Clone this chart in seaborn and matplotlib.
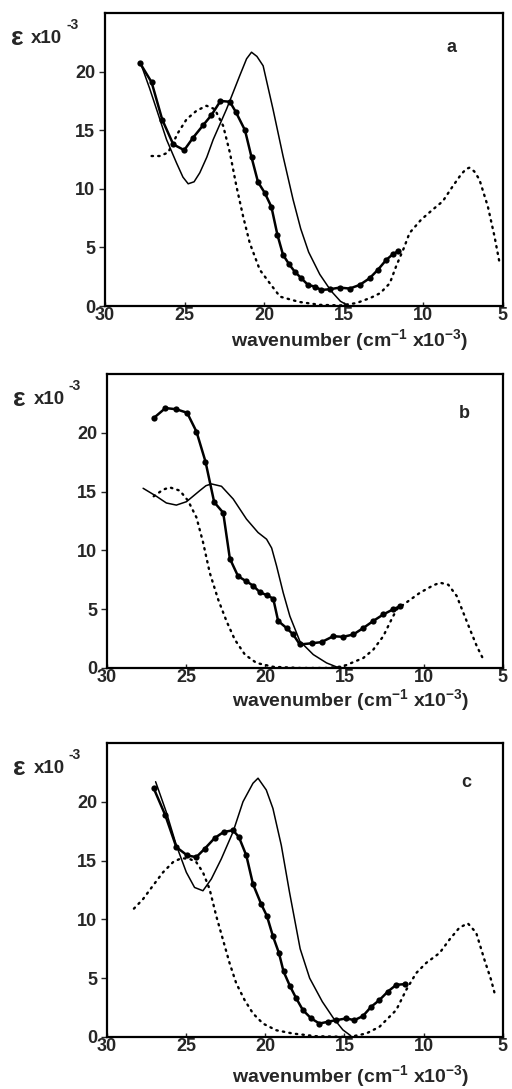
import matplotlib
matplotlib.use("Agg")
import matplotlib.pyplot as plt
import seaborn as sns

# ---- panel a ----
a_solid_x = [27.7, 27.2, 26.76, 26.13, 25.5, 25.1, 24.77, 24.4, 24.04, 23.6, 23.2, 22.36, 21.53, 21.1,
             20.79, 20.45, 20.06, 19.44, 18.81, 18.18, 17.7, 17.2, 16.5, 15.8, 15.2, 14.8]
a_solid_y = [20.5, 18.6, 16.8, 14.2, 12.2, 11.0, 10.43, 10.6, 11.37, 12.7, 14.2, 16.8, 19.66, 21.1,
             21.66, 21.3, 20.5, 16.8, 12.8, 9.09, 6.6, 4.6, 2.7, 1.3, 0.4, 0.1]
a_mark_x = [27.8, 27.07, 26.4, 25.71, 25.02, 24.46, 23.83, 23.31, 22.74, 22.15, 21.78, 21.2, 20.79,
            20.38, 19.96, 19.54, 19.16, 18.81, 18.43, 18.08, 17.66, 17.24, 16.82, 16.4, 15.88,
            15.25, 14.62, 13.99, 13.37, 12.85, 12.32, 11.9, 11.59]
a_mark_y = [20.74, 19.1, 15.9, 13.8, 13.3, 14.37, 15.43, 16.29, 17.5, 17.43, 16.57, 15.0, 12.7,
            10.57, 9.66, 8.46, 6.06, 4.37, 3.57, 2.94, 2.37, 1.8, 1.66, 1.37, 1.43,
            1.57, 1.49, 1.8, 2.37, 3.09, 3.94, 4.43, 4.66]
a_dot_x = [27.07, 26.55, 26.03, 25.4, 24.87, 24.25, 23.62, 23.1, 22.57, 22.15, 21.74, 21.32, 20.9,
           20.27, 19.64, 19.0, 17.8, 16.5, 15.2, 14.2, 13.3, 12.7, 12.1, 11.7, 11.2, 10.86, 10.13,
           9.4, 8.77, 8.14, 7.62, 7.3, 7.1, 6.8, 6.47, 5.94, 5.52, 5.2]
a_dot_y = [12.8, 12.8, 13.1, 14.8, 15.94, 16.66, 17.09, 16.8, 15.37, 13.09, 10.23, 7.66, 5.37,
           3.09, 1.94, 0.8, 0.35, 0.1, 0.05, 0.25, 0.7, 1.1, 1.94, 3.4, 5.0, 6.23, 7.37,
           8.23, 8.94, 10.23, 11.23, 11.7, 11.8, 11.5, 10.8, 8.5, 5.94, 3.66]

# ---- panel b ----
b_solid_x = [27.72, 26.88, 26.25, 25.62, 24.98, 24.14, 23.75, 23.4, 22.77, 22.03, 21.19, 20.46, 19.92,
             19.6, 19.29, 18.87, 18.45, 17.82, 16.97, 16.13, 15.5, 15.2]
b_solid_y = [15.28, 14.6, 14.03, 13.85, 14.14, 15.08, 15.5, 15.65, 15.45, 14.37, 12.66, 11.52, 10.95,
             10.2, 8.68, 6.4, 4.41, 2.28, 1.14, 0.43, 0.09, 0.05]
b_mark_x = [27.05, 26.31, 25.62, 24.94, 24.35, 23.78, 23.23, 22.66, 22.24, 21.72, 21.23, 20.77,
            20.35, 19.92, 19.5, 19.19, 18.66, 18.24, 17.82, 17.08, 16.45, 15.71, 15.08, 14.44,
            13.81, 13.18, 12.55, 11.91, 11.49]
b_mark_y = [21.25, 22.1, 22.0, 21.7, 20.1, 17.55, 14.1, 13.2, 9.3, 7.8, 7.4, 7.0,
            6.45, 6.2, 5.9, 4.0, 3.4, 2.85, 2.0, 2.1, 2.2, 2.7, 2.65, 2.85,
            3.4, 4.0, 4.55, 5.0, 5.25]
b_dot_x = [27.05, 26.46, 26.04, 25.4, 24.88, 24.35, 23.93, 23.51, 22.98, 22.45, 21.93, 21.29,
           20.56, 19.5, 17.8, 16.1, 15.08, 13.81, 13.18, 12.55, 12.03, 11.7, 10.23, 9.39, 8.96,
           8.44, 7.91, 7.49, 7.07, 6.64, 6.22]
b_dot_y = [14.6, 15.16, 15.36, 15.08, 14.22, 12.8, 10.67, 8.1, 5.83, 3.98, 2.42, 1.14,
           0.43, 0.1, 0.0, 0.0, 0.14, 0.85, 1.56, 2.7, 4.13, 4.98, 6.4, 7.03, 7.25,
           7.08, 6.12, 4.69, 3.27, 1.85, 0.71]

# ---- panel c ----
c_solid_x = [26.93, 26.26, 25.62, 24.99, 24.47, 23.94, 23.41, 22.78, 22.04, 21.41, 20.78, 20.46,
             19.94, 19.52, 18.99, 18.47, 17.8, 17.2, 16.4, 15.7, 15.1, 14.6]
c_solid_y = [21.7, 19.14, 16.29, 14.0, 12.71, 12.43, 13.43, 15.14, 17.43, 20.0, 21.57, 22.0,
             21.0, 19.43, 16.29, 12.29, 7.5, 5.0, 3.0, 1.6, 0.6, 0.1]
c_mark_x = [27.05, 26.32, 25.62, 24.93, 24.36, 23.83, 23.2, 22.63, 22.04, 21.67, 21.2, 20.78,
            20.26, 19.9, 19.52, 19.14, 18.85, 18.43, 18.05, 17.63, 17.1, 16.58, 16.05, 15.53,
            14.89, 14.37, 13.84, 13.31, 12.79, 12.26, 11.73, 11.2]
c_mark_y = [21.14, 18.86, 16.14, 15.43, 15.29, 16.0, 16.91, 17.43, 17.57, 17.0, 15.43, 13.0,
            11.29, 10.29, 8.57, 7.14, 5.57, 4.29, 3.29, 2.29, 1.57, 1.14, 1.29, 1.43,
            1.57, 1.43, 1.77, 2.57, 3.14, 3.86, 4.43, 4.49]
c_dot_x = [28.3, 27.73, 27.1, 26.46, 25.83, 25.31, 24.78, 24.36, 23.94, 23.52, 23.1, 22.68, 22.26,
           21.84, 21.31, 20.78, 20.15, 19.31, 18.26, 16.78, 14.68, 13.63, 12.79, 11.73, 11.1,
           10.47, 9.84, 8.99, 8.36, 7.74, 7.21, 6.68, 6.16, 5.74, 5.46]
c_dot_y = [10.91, 11.71, 12.86, 14.0, 14.86, 15.2, 15.14, 14.86, 14.0, 12.57, 10.29, 8.29, 6.29,
           4.57, 3.14, 2.0, 1.14, 0.57, 0.29, 0.06, 0.0, 0.29, 0.86, 2.29, 4.0,
           5.43, 6.29, 7.14, 8.29, 9.29, 9.66, 8.86, 6.57, 4.86, 3.43]

panels = [
    ("a", a_solid_x, a_solid_y, a_mark_x, a_mark_y, a_dot_x, a_dot_y),
    ("b", b_solid_x, b_solid_y, b_mark_x, b_mark_y, b_dot_x, b_dot_y),
    ("c", c_solid_x, c_solid_y, c_mark_x, c_mark_y, c_dot_x, c_dot_y),
]

sns.set_style("ticks")
plt.rcParams['font.family'] = ['Liberation Sans', 'DejaVu Sans']
plt.rcParams['font.weight'] = 'bold'
plt.rcParams['mathtext.fontset'] = 'custom'
plt.rcParams['mathtext.rm'] = 'Liberation Sans:bold'
plt.rcParams['mathtext.bf'] = 'Liberation Sans:bold'
plt.rcParams['mathtext.default'] = 'bf'

fig = plt.figure(figsize=(5.12, 10.89), dpi=100)
# axes boxes (left, bottom, width, height) in figure fractions
boxes = [(0.205, 0.719, 0.777, 0.269),
         (0.209, 0.3866, 0.773, 0.270),
         (0.209, 0.0478, 0.773, 0.270)]
letter_pos = [(0.872, 0.884), (0.904, 0.867), (0.907, 0.867)]
xlabel_y = [-0.072, -0.066, -0.090]

for (name, sx, sy, mx, my, dx, dy), box, lp, ly in zip(panels, boxes, letter_pos, xlabel_y):
    ax = fig.add_axes(box)
    sns.lineplot(x=dx, y=dy, ax=ax, color="black", sort=False, estimator=None,
                 linewidth=1.7, linestyle=(0, (0.6, 2.2)), dash_capstyle="round")
    sns.lineplot(x=sx, y=sy, ax=ax, color="black", sort=False, estimator=None, linewidth=1.1)
    sns.lineplot(x=mx, y=my, ax=ax, color="black", sort=False, estimator=None,
                 linewidth=1.8, marker="o", markersize=4.5, markeredgewidth=0)
    ax.set_xlim(30, 5)
    ax.set_ylim(0, 25)
    ax.set_xticks([30, 25, 20, 15, 10, 5])
    ax.set_yticks([0, 5, 10, 15, 20])
    ax.tick_params(axis="x", direction="in", length=3, width=1, pad=1, labelsize=13)
    ax.tick_params(axis="y", direction="out", length=4, width=1, pad=3, labelsize=13)
    for lab in ax.get_xticklabels() + ax.get_yticklabels():
        lab.set_fontweight("bold")
    for sp in ax.spines.values():
        sp.set_visible(True)
        sp.set_linewidth(1.6)
        sp.set_color("black")
    ax.set_xlabel(r"wavenumber (cm$^{-1}$ x10$^{-3}$)", fontsize=14,
                  fontweight="bold")
    ax.xaxis.set_label_coords(0.616, ly)
    ax.set_ylabel("")
    ax.text(lp[0], lp[1], name, transform=ax.transAxes, fontsize=13, fontweight="bold",
            ha="center", va="center")
    # y axis title: epsilon x10^-3
    ax.text(-0.237, 0.915, "ε", transform=ax.transAxes, fontsize=19, fontweight="bold",
            ha="left", va="center")
    ax.text(-0.185, 0.912, "x10", transform=ax.transAxes, fontsize=13.5, fontweight="bold",
            ha="left", va="center")
    ax.text(-0.097, 0.958, "-3", transform=ax.transAxes, fontsize=10, fontweight="bold",
            ha="left", va="center")

fig.savefig("out.png", dpi=100)
